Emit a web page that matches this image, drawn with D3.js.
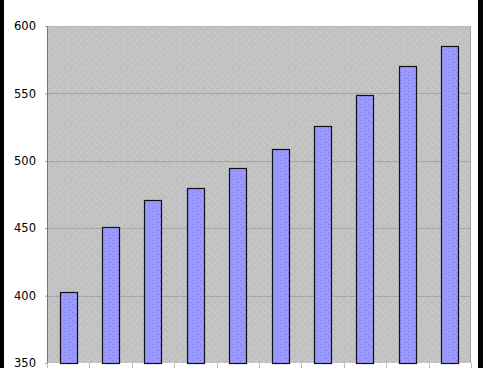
<!DOCTYPE html>
<html>
<head>
<meta charset="utf-8">
<script src="https://cdn.jsdelivr.net/npm/d3@7"></script>
<style>
  html, body { margin: 0; padding: 0; background: #fff; overflow: hidden; }
  svg { display: block; }
</style>
</head>
<body>
<svg width="483" height="368"></svg>
<script>
// categories and values
let categories = ['1', '2', '3', '4', '5', '6', '7', '8', '9', '10']
let values = [403, 451, 471, 480, 495, 509, 526, 549, 570, 585]
let yTicks = [350, 400, 450, 500, 550, 600]

let svg = d3.select('svg')
let margin = {top: 26, right: 12, bottom: 5, left: 47}
let width = 483 - margin.left - margin.right
let height = 368 - margin.top - margin.bottom

// stipple patterns
let defs = svg.append('defs')
let bgPat = defs.append('pattern')
  .attr('id', 'bgdots')
  .attr('patternUnits', 'userSpaceOnUse')
  .attr('width', 7).attr('height', 7)
bgPat.append('rect').attr('width', 7).attr('height', 7).attr('fill', '#c0c0c0')
let bgDots = [[1, 1], [4, 2], [2, 4], [6, 5], [5, 0], [0, 6]]
bgDots.forEach(function (p) {
  bgPat.append('rect').attr('x', p[0]).attr('y', p[1]).attr('width', 1).attr('height', 1).attr('fill', '#d4d4d4')
})
let barPat = defs.append('pattern')
  .attr('id', 'bardots')
  .attr('patternUnits', 'userSpaceOnUse')
  .attr('width', 8).attr('height', 8)
barPat.append('rect').attr('width', 8).attr('height', 8).attr('fill', '#9999ff')
let barDots = [[2, 1], [6, 4], [1, 6], [5, 0]]
barDots.forEach(function (p) {
  barPat.append('rect').attr('x', p[0]).attr('y', p[1]).attr('width', 1).attr('height', 1).attr('fill', '#7777dd')
})

// black edges of the frame
svg.append('rect').attr('x', 0).attr('y', 0).attr('width', 4).attr('height', 368).attr('fill', '#000')
svg.append('rect').attr('x', 478).attr('y', 0).attr('width', 5).attr('height', 368).attr('fill', '#000')

let g = svg.append('g')
  .attr('transform', 'translate(' + margin.left + ',' + margin.top + ')')

let x = d3.scaleBand()
  .domain(categories)
  .range([0, width])
  .paddingInner(0.59)
  .paddingOuter(0.295)

let xb = d3.scaleBand().domain(categories).range([0, width])

let y = d3.scaleLinear()
  .domain([350, 600])
  .range([337, 0])

// plot area
g.append('rect')
  .attr('width', width)
  .attr('height', 337)
  .attr('fill', 'url(#bgdots)')

// gridlines
g.append('g')
  .selectAll('line')
  .data(yTicks.slice(1, -1))
  .enter().append('line')
  .attr('x1', 0).attr('x2', width)
  .attr('y1', (d) => Math.round(y(d)) + 0.5)
  .attr('y2', (d) => Math.round(y(d)) + 0.5)
  .attr('stroke', '#a6a6a6')
  .attr('stroke-width', 1)

// top and right border
g.append('line').attr('x1', 0).attr('x2', width).attr('y1', 0.5).attr('y2', 0.5).attr('stroke', '#b8b8b8')
g.append('line').attr('x1', width - 0.5).attr('x2', width - 0.5).attr('y1', 0).attr('y2', 337).attr('stroke', '#a0a0a0')

// bars
g.append('g')
  .selectAll('rect')
  .data(values)
  .enter().append('rect')
  .attr('x', (d, i) => Math.round(x(categories[i])) + 0.5)
  .attr('y', (d) => Math.round(y(d)) + 0.5)
  .attr('width', Math.round(x.bandwidth()))
  .attr('height', (d) => 337 - Math.round(y(d)))
  .attr('fill', 'url(#bardots)')
  .attr('stroke', '#111')
  .attr('stroke-width', 1.2)

// y axis
let yAxis = g.append('g')
  .call(d3.axisLeft(y).tickValues(yTicks).tickSize(2).tickPadding(9))
yAxis.select('.domain').attr('stroke', '#777')
yAxis.selectAll('.tick line').attr('stroke', '#999')
yAxis.selectAll('text')
  .attr('fill', '#000')
  .style('font-family', 'DejaVu Sans')
  .style('font-size', '11.5px')

// category tick marks at band edges
g.append('g')
  .selectAll('line')
  .data(categories.concat(['end']))
  .enter().append('line')
  .attr('x1', (d, i) => Math.round(i < categories.length ? xb(d) : width) + 0.5)
  .attr('x2', (d, i) => Math.round(i < categories.length ? xb(d) : width) + 0.5)
  .attr('y1', 337).attr('y2', 342)
  .attr('stroke', '#bbb')
</script>
</body>
</html>
